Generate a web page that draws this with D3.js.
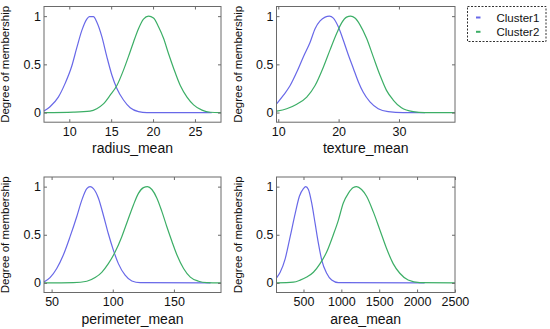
<!DOCTYPE html>
<html><head><meta charset="utf-8">
<script src="https://cdn.jsdelivr.net/npm/d3@7"></script>
<style>
html,body{margin:0;padding:0;background:#fff;}
svg{display:block;font-family:"Liberation Sans",Arial,sans-serif;}
</style></head>
<body>
<svg id="c" width="550" height="329"></svg>
<script>
// ---------- data ----------
const seriesNames = ["Cluster1", "Cluster2"];
const seriesColors = ["#6868e8", "#3cae66"];
const yTicks = [0, 0.5, 1];

// radius_mean
const radiusDomain = [6.981, 28.11];
const radiusTicks = [10, 15, 20, 25];
const radiusX1 = [6.98, 7.7, 8.69, 9.49, 10.29, 10.89, 11.49, 12.09, 12.4, 12.88, 13.28, 13.88, 14.48, 15.08, 15.68, 16.47, 17.27, 18.26, 19.27, 27.0];
const radiusY1 = [0.015, 0.06, 0.16, 0.30, 0.48, 0.67, 0.85, 0.97, 0.995, 0.995, 0.94, 0.79, 0.58, 0.39, 0.25, 0.13, 0.05, 0.01, 0, 0];
const radiusX2 = [6.98, 10.5, 12.48, 13.28, 14.07, 14.88, 15.68, 16.47, 17.06, 17.66, 18.26, 18.86, 19.46, 20.05, 20.65, 21.25, 21.85, 22.45, 23.25, 24.05, 24.84, 25.84, 26.84, 28.11];
const radiusY2 = [0, 0.005, 0.015, 0.04, 0.09, 0.18, 0.28, 0.44, 0.58, 0.73, 0.87, 0.97, 1.0, 0.98, 0.89, 0.77, 0.61, 0.46, 0.28, 0.16, 0.08, 0.025, 0.003, 0];

// texture_mean
const textureDomain = [9.71, 39.28];
const textureTicks = [10, 20, 30];
const textureX1 = [9.76, 10.87, 11.97, 13.07, 14.17, 15.28, 16.1, 16.93, 17.76, 18.47, 19.13, 19.95, 20.78, 21.6, 22.43, 23.26, 24.08, 25.19, 26.56, 28.21, 30.69, 34.3];
const textureY1 = [0.093, 0.18, 0.28, 0.42, 0.58, 0.73, 0.87, 0.95, 0.99, 1.0, 0.98, 0.89, 0.75, 0.6, 0.46, 0.32, 0.21, 0.11, 0.04, 0.01, 0, 0];
const textureX2 = [9.76, 11.4, 13.07, 14.72, 16.1, 17.47, 18.58, 19.67, 20.5, 21.32, 21.99, 22.71, 23.54, 24.63, 25.73, 26.84, 27.93, 29.04, 30.41, 32.34, 34.27, 39.28];
const textureY2 = [0.014, 0.04, 0.087, 0.16, 0.28, 0.47, 0.65, 0.82, 0.93, 0.99, 1.0, 0.98, 0.91, 0.77, 0.58, 0.39, 0.23, 0.13, 0.05, 0.01, 0, 0];

// perimeter_mean
const perimeterDomain = [43.79, 188.5];
const perimeterTicks = [50, 100, 150];
const perimeterX1 = [43.79, 48.7, 54.2, 59.6, 65.1, 70.6, 74.7, 78.8, 81.5, 84.2, 88.3, 92.4, 96.4, 100.5, 104.6, 110.1, 115.6, 122.4, 180];
const perimeterY1 = [0.01, 0.055, 0.15, 0.29, 0.48, 0.69, 0.86, 0.98, 1.0, 0.98, 0.88, 0.70, 0.51, 0.34, 0.2, 0.08, 0.02, 0.003, 0];
const perimeterX2 = [43.79, 67.8, 78.8, 85.6, 91.0, 96.4, 101.9, 107.4, 112, 116.9, 121, 125.1, 128.4, 132, 136.1, 140.2, 144.3, 148.4, 152.5, 157.9, 163.4, 170.2, 177.0, 188.5];
const perimeterY2 = [0, 0.003, 0.017, 0.055, 0.11, 0.2, 0.32, 0.48, 0.64, 0.81, 0.93, 0.99, 1.0, 0.97, 0.88, 0.74, 0.58, 0.43, 0.29, 0.15, 0.06, 0.017, 0.003, 0];

// area_mean
const areaDomain = [143.5, 2501];
const areaTicks = [500, 1000, 1500, 2000, 2500];
const areaX1 = [147, 192, 258, 324, 390, 446, 499, 530, 565, 608, 653, 697, 740, 806, 872, 960, 2100];
const areaY1 = [0.055, 0.11, 0.25, 0.48, 0.72, 0.9, 0.98, 1.0, 0.97, 0.83, 0.62, 0.41, 0.24, 0.1, 0.03, 0.003, 0];
const areaX2 = [147, 367, 456, 543, 631, 719, 806, 894, 960, 1026, 1092, 1158, 1201, 1267, 1333, 1421, 1509, 1596, 1684, 1772, 1882, 2036, 2501];
const areaY2 = [0, 0.007, 0.028, 0.06, 0.11, 0.2, 0.32, 0.5, 0.65, 0.83, 0.93, 0.99, 1.0, 0.97, 0.9, 0.74, 0.55, 0.36, 0.2, 0.1, 0.03, 0.003, 0];

const panels = [
  {name: "radius_mean", domain: radiusDomain, ticks: radiusTicks, xs: [radiusX1, radiusX2], ys: [radiusY1, radiusY2], col: 0, row: 0},
  {name: "texture_mean", domain: textureDomain, ticks: textureTicks, xs: [textureX1, textureX2], ys: [textureY1, textureY2], col: 1, row: 0},
  {name: "perimeter_mean", domain: perimeterDomain, ticks: perimeterTicks, xs: [perimeterX1, perimeterX2], ys: [perimeterY1, perimeterY2], col: 0, row: 1},
  {name: "area_mean", domain: areaDomain, ticks: areaTicks, xs: [areaX1, areaX2], ys: [areaY1, areaY2], col: 1, row: 1}
];

// ---------- layout ----------
const colX = [[44, 221], [276.5, 455]];
const rowY = [[6.5, 122.2], [177, 292.5]];
const svg = d3.select("#c");
const boxColor = "#6a6a6a";
const textColor = "#111";

panels.forEach(p => {
  const [x0, x1] = colX[p.col];
  const [y0, y1] = rowY[p.row];
  const x = d3.scaleLinear().domain(p.domain).range([x0, x1]);
  const y = d3.scaleLinear().domain([-0.1, 1.1]).range([y1, y0]);
  const g = svg.append("g");

  g.append("rect").attr("x", x0).attr("y", y0).attr("width", x1 - x0).attr("height", y1 - y0)
    .attr("fill", "#fff");

  const line = d3.line().x(d => x(d[0])).y(d => y(d[1])).curve(d3.curveMonotoneX);
  [0, 1].forEach(i => {
    const pts = p.xs[i].map((v, k) => [v, p.ys[i][k]]);
    g.append("path").attr("d", line(pts)).attr("fill", "none")
      .attr("stroke", seriesColors[i]).attr("stroke-width", 1.2);
  });

  const ax = g.append("g").attr("transform", `translate(0,${y1})`)
    .call(d3.axisBottom(x).tickValues(p.ticks).tickSize(-3).tickPadding(5).tickFormat(d3.format("d")));
  const axTop = g.append("g").attr("transform", `translate(0,${y0})`)
    .call(d3.axisTop(x).tickValues(p.ticks).tickSize(-3).tickFormat(""));
  const ay = g.append("g").attr("transform", `translate(${x0},0)`)
    .call(d3.axisLeft(y).tickValues(yTicks).tickSize(-3).tickPadding(3).tickFormat(d => d === 0.5 ? "0.5" : d3.format("d")(d)));
  const ayR = g.append("g").attr("transform", `translate(${x1},0)`)
    .call(d3.axisRight(y).tickValues(yTicks).tickSize(-3).tickFormat(""));
  [ax, axTop, ay, ayR].forEach(a => {
    a.select(".domain").remove();
    a.selectAll(".tick line").attr("stroke", boxColor);
    a.selectAll(".tick text").attr("fill", textColor).style("font-size", "12.5px")
      .style("font-family", "'Liberation Sans',Arial,sans-serif");
  });

  g.append("rect").attr("x", x0).attr("y", y0).attr("width", x1 - x0).attr("height", y1 - y0)
    .attr("fill", "none").attr("stroke", boxColor).attr("stroke-width", 1);

  g.append("text").attr("x", (x0 + x1) / 2).attr("y", y1 + 31).attr("text-anchor", "middle")
    .attr("fill", textColor).style("font-size", "14px").text(p.name);
  g.append("text").attr("transform", `translate(${x0 - 35},${(y0 + y1) / 2}) rotate(-90)`)
    .attr("text-anchor", "middle").attr("fill", textColor).style("font-size", "11.5px")
    .text("Degree of membership");
});

// ---------- legend ----------
const lg = svg.append("g");
lg.append("rect").attr("x", 467.5).attr("y", 6.5).attr("width", 78.5).attr("height", 35)
  .attr("fill", "#fff").attr("stroke", "#333").attr("stroke-width", 1).attr("stroke-dasharray", "2,1.5");
seriesNames.forEach((n, i) => {
  const yy = 17.5 + i * 14.3;
  lg.append("line").attr("x1", 476).attr("x2", 480.5).attr("y1", yy).attr("y2", yy)
    .attr("stroke", seriesColors[i]).attr("stroke-width", 2);
  lg.append("text").attr("x", 496.5).attr("y", yy + 4).attr("fill", textColor)
    .style("font-size", "11.5px").text(n);
});
</script>
</body></html>
